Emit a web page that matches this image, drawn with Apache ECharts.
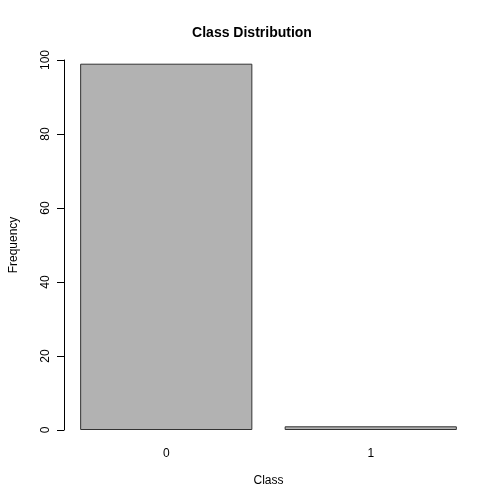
<!DOCTYPE html>
<html>
<head>
<meta charset="utf-8">
<script src="https://cdn.jsdelivr.net/npm/echarts@6/dist/echarts.min.js"></script>
<style>html,body{margin:0;background:#fff}#c{width:504px;height:504px}</style>
</head>
<body>
<div id="c"></div>
<script>
// 类别与频数
var classes = ['0', '1']
var counts = [99, 1]
var yTicks = [0, 20, 40, 60, 80, 100]

var chart = echarts.init(document.getElementById('c'))
chart.setOption({
  animation: false,
  textStyle: { fontFamily: 'Liberation Sans, Arial, sans-serif' },
  title: {
    text: 'Class Distribution', left: 'center', top: 21,
    textStyle: { fontSize: 14, fontWeight: 'bold', color: '#000' }
  },
  grid: { left: 59, right: 31, top: 60, bottom: 74 },
  xAxis: {
    type: 'category', data: classes,
    name: 'Class', nameLocation: 'middle', nameGap: 45,
    nameTextStyle: { fontSize: 12, color: '#000' },
    axisLine: { show: false }, axisTick: { show: false },
    axisLabel: { fontSize: 12, color: '#000', margin: 18 }
  },
  yAxis: {
    type: 'value', min: 0, max: 100, interval: 20,
    name: 'Frequency', nameLocation: 'middle', nameGap: 44,
    nameTextStyle: { fontSize: 12, color: '#000' },
    axisLine: { show: true, lineStyle: { color: '#000' } },
    axisTick: { show: true, length: 7, lineStyle: { color: '#000' } },
    axisLabel: { fontSize: 12, color: '#000', rotate: 90, margin: 12,
      formatter: function (v) { return yTicks.indexOf(v) >= 0 ? v : '' } },
    splitLine: { show: false }
  },
  series: [{
    type: 'bar', data: counts, barCategoryGap: '15.8%',
    itemStyle: { color: '#b2b2b2', borderColor: '#333', borderWidth: 1 }
  }]
})
</script>
</body>
</html>
